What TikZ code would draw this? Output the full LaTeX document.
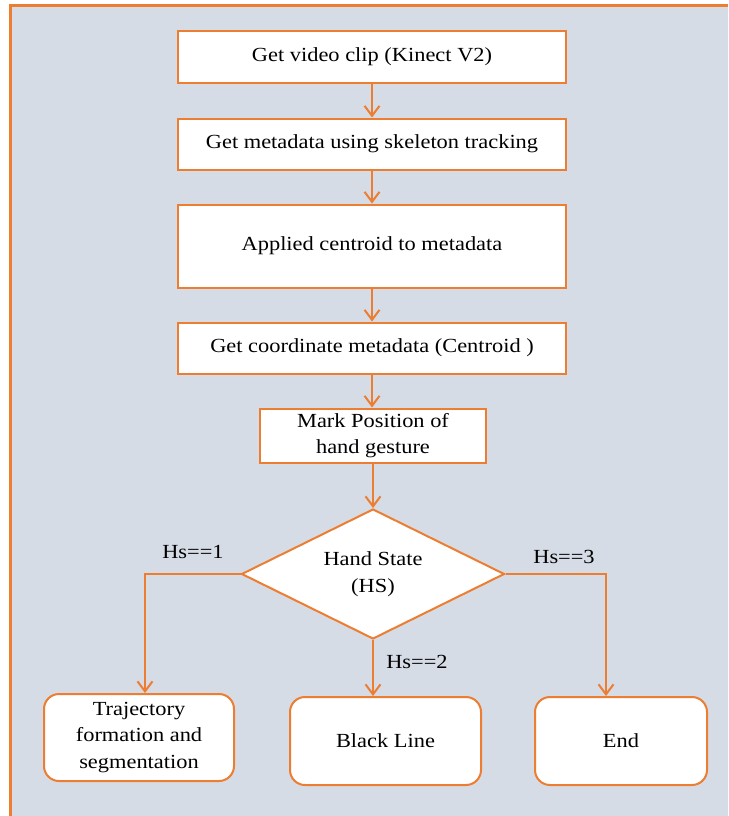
\documentclass[tikz,border=0pt]{standalone}
\usepackage{fontspec}
\setmainfont{Liberation Serif}[FakeStretch=1.12]
\usetikzlibrary{arrows.meta,shapes.geometric}
\tikzset{>={Straight Barb[length=10pt,width=15pt]}}
\definecolor{boxorange}{HTML}{ED7D31}
\definecolor{pagegray}{HTML}{D6DCE5}
\tikzset{
  stepbox/.style={draw=boxorange, fill=white, line width=2pt, minimum width=388pt,
    minimum height=51pt, inner sep=0pt, align=center},
  endbox/.style={draw=boxorange, fill=white, line width=2pt, rounded corners=15pt,
    minimum height=88pt, inner sep=0pt, align=center},
  flow/.style={draw=boxorange, line width=2pt, ->},
}

\begin{document}
\begin{tikzpicture}[x=1pt, y=-1pt, font=\fontsize{20}{26.5}\selectfont]
\useasboundingbox (0,0) rectangle (728,816);
\fill[pagegray] (10,6) rectangle (728,816);
\draw[boxorange, line width=3pt] (10,816) -- (10,6) -- (728,6);

% main column
\node[stepbox] (clip) at (372, 57) {Get video clip (Kinect V2)};
\node[stepbox] (meta) at (372,144) {Get metadata using skeleton tracking};
\node[stepbox, minimum height=83pt] (cent) at (372,246) {Applied centroid to metadata};
\node[stepbox] (coord) at (372,348) {Get coordinate metadata (Centroid )};
\node[stepbox, minimum width=226pt, minimum height=54pt] (mark) at (373,435.5)
  {Mark Position of\\ hand gesture};

\node[diamond, aspect=2.02, draw=boxorange, fill=white, line width=2pt,
  minimum width=263pt, minimum height=130pt, inner sep=0pt, align=center]
  (hs) at (373,574) {Hand State\\ (HS)};

% results
\node[endbox, minimum width=190pt, minimum height=87pt] (traj) at (139,737.5)
  {Trajectory\\ formation and\\ segmentation};
\node[endbox, minimum width=191pt] (black) at (385.5,741) {Black Line};
\node[endbox, minimum width=172pt] (end) at (621,741) {End};

\draw[flow] (clip) -- (meta);
\draw[flow] (meta) -- (cent);
\draw[flow] (cent) -- (coord);
\draw[flow] (coord.south) -- (coord.south |- mark.north);
\draw[flow] (mark.south) -- (mark.south |- hs.north);

\draw[flow] (hs.west) -| ([xshift=6pt]traj.north);
\draw[flow] (hs.south) -- (hs.south |- black.north);
\draw[flow] (hs.east) -| ([xshift=-15pt]end.north);

\node (l1) at (193,552) {Hs==1};
\node (l2) at (417,662) {Hs==2};
\node (l3) at (564,557) {Hs==3};
\end{tikzpicture}
\end{document}
